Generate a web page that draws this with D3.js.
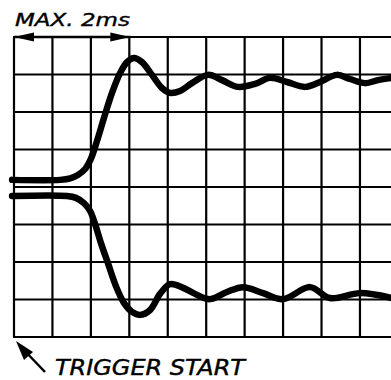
<!DOCTYPE html>
<html>
<head>
<meta charset="utf-8">
<script src="https://cdn.jsdelivr.net/npm/d3@7"></script>
<style>
  html, body { margin: 0; padding: 0; background: #fff; }
  svg { display: block; }
</style>
</head>
<body>
<svg id="chart" width="391" height="380"></svg>
<script>
// ---- data (grid divisions) ----
const gridCols = [0, 1, 2, 3, 4, 5, 6, 7, 8, 9];
const gridRows = [-4, -3, -2, -1, 0, 1, 2, 3, 4];

const upperX = [-0.05, 1.20, 1.46, 1.66, 1.85, 2.00, 2.16, 2.34, 2.55, 2.76, 2.94, 3.12, 3.33, 3.59, 3.85, 4.06, 4.32, 4.63, 5.05, 5.41, 5.83, 6.27, 6.66, 7.10, 7.57, 7.96, 8.40, 8.74, 9.13, 9.47, 9.83];
const upperY = [0.19, 0.19, 0.23, 0.32, 0.48, 0.75, 1.23, 1.84, 2.51, 3.04, 3.33, 3.44, 3.33, 2.99, 2.64, 2.51, 2.56, 2.77, 2.99, 2.85, 2.67, 2.75, 2.91, 2.80, 2.67, 2.80, 2.99, 2.88, 2.77, 2.85, 2.91];

const lowerX = [-0.05, 1.38, 1.61, 1.82, 1.98, 2.11, 2.26, 2.45, 2.65, 2.86, 3.07, 3.28, 3.54, 3.80, 4.06, 4.40, 4.71, 5.10, 5.54, 5.96, 6.48, 7.00, 7.70, 8.22, 9.00, 9.83];
const lowerY = [-0.24, -0.24, -0.29, -0.43, -0.64, -0.99, -1.49, -2.05, -2.64, -3.09, -3.33, -3.41, -3.28, -2.85, -2.59, -2.69, -2.85, -2.99, -2.80, -2.67, -2.83, -2.99, -2.67, -2.96, -2.83, -2.96];

const topLabel = "MAX. 2ms";
const bottomLabel = "TRIGGER START";
const maxSpan = [0, 3]; // divisions spanned by the MAX arrow

// ---- scales ----
const svg = d3.select("#chart");
const x = d3.scaleLinear().domain([0, 10]).range([14, 398.4]);
const y = d3.scaleLinear().domain([4, -4]).range([37, 337]);

// ---- grid ----
const g = svg.append("g");
g.selectAll("line.v").data(gridCols).enter().append("line")
  .attr("x1", d => x(d)).attr("x2", d => x(d))
  .attr("y1", y(4)).attr("y2", y(-4))
  .attr("stroke", "#000").attr("stroke-width", 2.2);
g.selectAll("line.h").data(gridRows).enter().append("line")
  .attr("x1", x(0) - 1).attr("x2", 391)
  .attr("y1", d => y(d)).attr("y2", d => y(d))
  .attr("stroke", "#000").attr("stroke-width", 2.2);

// ---- traces ----
const line = d3.line().x(d => x(d[0])).y(d => y(d[1])).curve(d3.curveCatmullRom.alpha(0.5));
const upper = upperX.map((v, i) => [v, upperY[i]]);
const lower = lowerX.map((v, i) => [v, lowerY[i]]);
[upper, lower].forEach(pts => {
  svg.append("path").attr("d", line(pts))
    .attr("fill", "none").attr("stroke", "#000")
    .attr("stroke-width", 6.5).attr("stroke-linecap", "round").attr("stroke-linejoin", "round");
});

// ---- MAX arrow ----
const ax0 = x(maxSpan[0]), ax1 = x(maxSpan[1]) + 1, ay = y(4);
svg.append("line").attr("x1", ax0).attr("x2", ax1).attr("y1", ay).attr("y2", ay)
  .attr("stroke", "#000").attr("stroke-width", 2.5);
svg.append("path").attr("d", `M${ax0},${ay} L${ax0 + 20},${ay - 4.5} L${ax0 + 20},${ay + 4.5} Z`).attr("fill", "#000");
svg.append("path").attr("d", `M${ax1},${ay} L${ax1 - 20},${ay - 4.5} L${ax1 - 20},${ay + 4.5} Z`).attr("fill", "#000");

svg.append("text").attr("x", 15).attr("y", 26)
  .attr("font-family", "DejaVu Sans").attr("font-style", "italic")
  .attr("font-size", 18.5).attr("stroke", "#000").attr("stroke-width", 0.4)
  .attr("textLength", 115).attr("lengthAdjust", "spacingAndGlyphs")
  .text(topLabel);

// ---- trigger arrow ----
const tx = x(0) + 2, ty = y(-4) + 4;
svg.append("line").attr("x1", 45).attr("y1", 372).attr("x2", tx + 6).attr("y2", ty + 7)
  .attr("stroke", "#000").attr("stroke-width", 2.5);
svg.append("path").attr("d", `M${tx},${ty} L${tx + 17},${ty + 11} L${tx + 8},${ty + 19} Z`).attr("fill", "#000");

svg.append("text").attr("x", 55).attr("y", 375)
  .attr("font-family", "DejaVu Sans").attr("font-style", "italic")
  .attr("font-size", 21).attr("stroke", "#000").attr("stroke-width", 0.4)
  .attr("textLength", 190).attr("lengthAdjust", "spacingAndGlyphs")
  .text(bottomLabel);
</script>
</body>
</html>
